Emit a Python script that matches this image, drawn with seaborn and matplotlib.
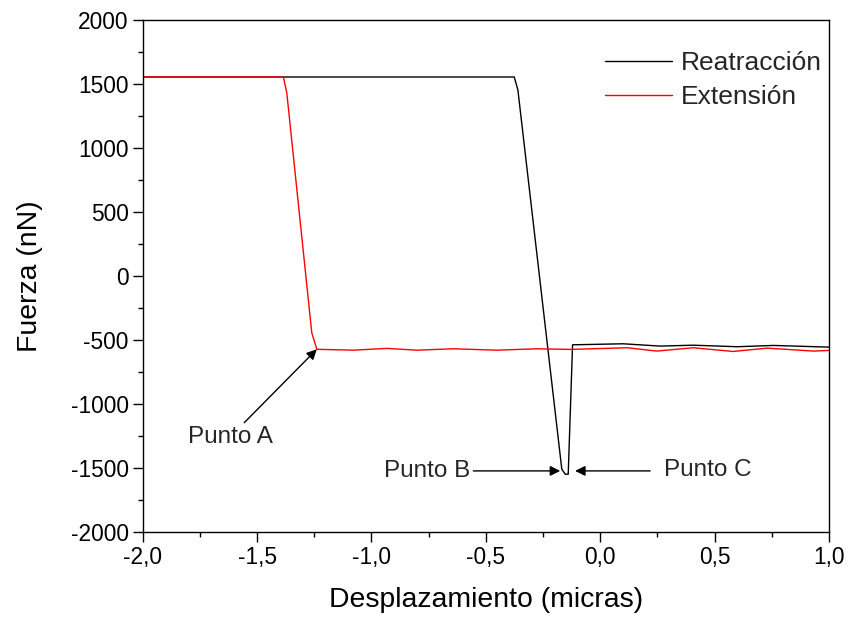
import numpy as np
import pandas as pd
import matplotlib
matplotlib.use("Agg")
import matplotlib.pyplot as plt
from matplotlib.ticker import MultipleLocator, FuncFormatter
import seaborn as sns

# --- data ---
ret_x = [-2.0, -0.376, -0.360, -0.168, -0.153, -0.140, -0.121,
         0.100, 0.262, 0.406, 0.599, 0.756, 1.0]
ret_y = [1555, 1555, 1454, -1509, -1548, -1548, -537,
         -529, -547, -540, -552, -542, -555]

ext_x = [-2.0, -1.385, -1.370, -1.261, -1.239, -1.079, -0.933, -0.802,
         -0.643, -0.452, -0.277, -0.132, 0.117, 0.248, 0.406, 0.581,
         0.730, 0.931, 1.0]
ext_y = [1555, 1555, 1428, -443, -572, -579, -565, -579,
         -568, -579, -568, -573, -560, -586, -560, -589,
         -563, -586, -581]

series_names = ["Reatracción", "Extensión"]
series_colors = ["black", "red"]

annot_labels = ["Punto A", "Punto B", "Punto C"]
annot_head = [(-1.239, -572), (-0.175, -1522), (-0.110, -1522)]
annot_tail = [(-1.618, -1171), (-0.569, -1522), (0.218, -1522)]

df = pd.concat([
    pd.DataFrame({"x": ret_x, "y": ret_y, "serie": series_names[0]}),
    pd.DataFrame({"x": ext_x, "y": ext_y, "serie": series_names[1]}),
], ignore_index=True)

sns.set_theme(style="ticks")
plt.rcParams["font.family"] = ["Liberation Sans", "DejaVu Sans"]

fig = plt.figure(figsize=(8.48, 6.18), dpi=100)
ax = fig.add_axes([0.1683, 0.139, 0.8093, 0.8286])

sns.lineplot(data=df, x="x", y="y", hue="serie", hue_order=series_names,
             palette=dict(zip(series_names, series_colors)),
             sort=False, estimator=None, linewidth=1.0, ax=ax)

ax.set_xlim(-2.0, 1.0)
ax.set_ylim(-2000, 2000)
ax.xaxis.set_major_locator(MultipleLocator(0.5))
ax.xaxis.set_minor_locator(MultipleLocator(0.25))
ax.yaxis.set_major_locator(MultipleLocator(500))
ax.yaxis.set_minor_locator(MultipleLocator(250))
ax.xaxis.set_major_formatter(FuncFormatter(lambda v, p: f"{v:.1f}".replace(".", ",")))
ax.yaxis.set_major_formatter(FuncFormatter(lambda v, p: f"{v:.0f}"))

ax.tick_params(axis="both", which="major", direction="out", length=7, width=1.0,
               labelsize=16.4, color="black", labelcolor="black", pad=3)
ax.tick_params(axis="both", which="minor", direction="out", length=3.5, width=1.0,
               color="black")
ax.tick_params(top=False, right=False, which="both")
for s in ax.spines.values():
    s.set_visible(True)
    s.set_color("black")
    s.set_linewidth(1.0)

ax.set_xlabel("Desplazamiento (micras)", fontsize=20.4, color="black", labelpad=13)
ax.set_ylabel("Fuerza (nN)", fontsize=20.4, color="black", labelpad=20)

leg = ax.legend(loc="upper right", bbox_to_anchor=(0.99, 0.94), frameon=False,
                fontsize=19, handlelength=2.55, handletextpad=0.35,
                borderaxespad=0.0, labelspacing=0.4, borderpad=0.0)
for h in leg.get_lines():
    h.set_linewidth(1.0)

# annotations
arrow = dict(arrowstyle="-|>", color="black", lw=1.0,
             mutation_scale=15, shrinkA=0, shrinkB=0)
ax.annotate(annot_labels[0], xy=annot_head[0], xytext=annot_tail[0],
            fontsize=17.5, ha="center", va="top", arrowprops=arrow)
ax.annotate(annot_labels[1], xy=annot_head[1], xytext=annot_tail[1],
            fontsize=17.5, ha="right", va="center", arrowprops=arrow)
ax.annotate("", xy=annot_head[2], xytext=annot_tail[2], arrowprops=arrow)
ax.annotate(annot_labels[2], xy=annot_tail[2], xytext=(10, 1),
            textcoords="offset points", fontsize=17.5, ha="left", va="center")

fig.savefig("out.png", dpi=100)
